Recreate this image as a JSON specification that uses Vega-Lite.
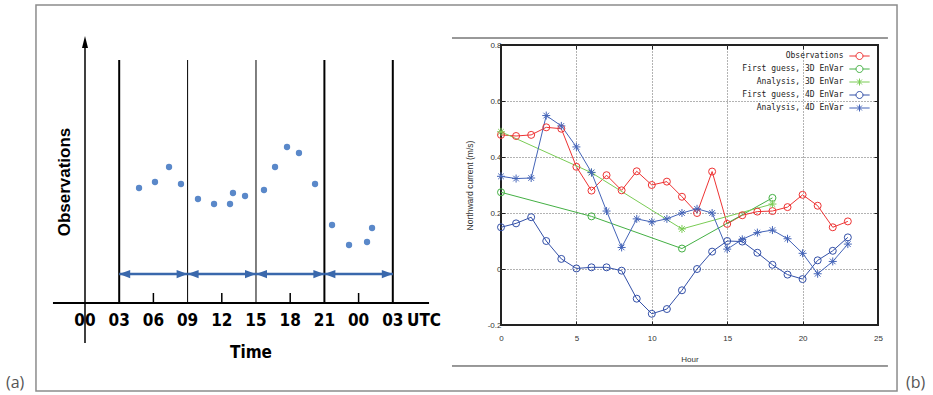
{
  "$schema": "https://vega.github.io/schema/vega-lite/v6.json",
  "padding": {"left": 5, "top": 4, "right": 0, "bottom": 0},
  "background": "white",
  "spacing": 50,
  "bounds": "flush",
  "datasets": {
    "dotsA": [
      {"h": 4.74, "v": 115}, {"h": 6.14, "v": 121}, {"h": 7.37, "v": 136}, {"h": 8.42, "v": 119},
      {"h": 9.91, "v": 104}, {"h": 11.32, "v": 99}, {"h": 12.72, "v": 99}, {"h": 12.98, "v": 110},
      {"h": 14.04, "v": 107}, {"h": 15.7, "v": 113}, {"h": 16.67, "v": 136}, {"h": 17.72, "v": 156},
      {"h": 18.77, "v": 150}, {"h": 20.18, "v": 119}, {"h": 21.67, "v": 78}, {"h": 23.16, "v": 58},
      {"h": 24.74, "v": 61}, {"h": 25.18, "v": 75}
    ],
    "windowsA": [
      {"start": 3, "end": 9}, {"start": 9, "end": 15}, {"start": 15, "end": 21}, {"start": 21, "end": 27}
    ],
    "boundsA": [{"h": 3}, {"h": 9}, {"h": 15}, {"h": 21}, {"h": 27}],
    "ticksA": [{"h": 6}, {"h": 12}, {"h": 18}, {"h": 24}],
    "labelsA": [
      {"h": 0, "label": "00"}, {"h": 3, "label": "03"}, {"h": 6, "label": "06"}, {"h": 9, "label": "09"},
      {"h": 12, "label": "12"}, {"h": 15, "label": "15"}, {"h": 18, "label": "18"}, {"h": 21, "label": "21"},
      {"h": 24, "label": "00"}, {"h": 27, "label": "03"}
    ],
    "seriesB": [
      {"hour": 0, "series": "Observations", "value": 0.479},
      {"hour": 1, "series": "Observations", "value": 0.475},
      {"hour": 2, "series": "Observations", "value": 0.479},
      {"hour": 3, "series": "Observations", "value": 0.506},
      {"hour": 4, "series": "Observations", "value": 0.501},
      {"hour": 5, "series": "Observations", "value": 0.365},
      {"hour": 6, "series": "Observations", "value": 0.28},
      {"hour": 7, "series": "Observations", "value": 0.335},
      {"hour": 8, "series": "Observations", "value": 0.281},
      {"hour": 9, "series": "Observations", "value": 0.349},
      {"hour": 10, "series": "Observations", "value": 0.3},
      {"hour": 11, "series": "Observations", "value": 0.312},
      {"hour": 12, "series": "Observations", "value": 0.258},
      {"hour": 13, "series": "Observations", "value": 0.2},
      {"hour": 14, "series": "Observations", "value": 0.348},
      {"hour": 15, "series": "Observations", "value": 0.161},
      {"hour": 16, "series": "Observations", "value": 0.192},
      {"hour": 17, "series": "Observations", "value": 0.205},
      {"hour": 18, "series": "Observations", "value": 0.207},
      {"hour": 19, "series": "Observations", "value": 0.221},
      {"hour": 20, "series": "Observations", "value": 0.265},
      {"hour": 21, "series": "Observations", "value": 0.226},
      {"hour": 22, "series": "Observations", "value": 0.149},
      {"hour": 23, "series": "Observations", "value": 0.17},
      {"hour": 0, "series": "First guess, 3D EnVar", "value": 0.274},
      {"hour": 6, "series": "First guess, 3D EnVar", "value": 0.188},
      {"hour": 12, "series": "First guess, 3D EnVar", "value": 0.073},
      {"hour": 18, "series": "First guess, 3D EnVar", "value": 0.254},
      {"hour": 0, "series": "Analysis, 3D EnVar", "value": 0.49},
      {"hour": 6, "series": "Analysis, 3D EnVar", "value": 0.344},
      {"hour": 12, "series": "Analysis, 3D EnVar", "value": 0.143},
      {"hour": 18, "series": "Analysis, 3D EnVar", "value": 0.232},
      {"hour": 0, "series": "First guess, 4D EnVar", "value": 0.149},
      {"hour": 1, "series": "First guess, 4D EnVar", "value": 0.163},
      {"hour": 2, "series": "First guess, 4D EnVar", "value": 0.185},
      {"hour": 3, "series": "First guess, 4D EnVar", "value": 0.1},
      {"hour": 4, "series": "First guess, 4D EnVar", "value": 0.036},
      {"hour": 5, "series": "First guess, 4D EnVar", "value": 0.002},
      {"hour": 6, "series": "First guess, 4D EnVar", "value": 0.006},
      {"hour": 7, "series": "First guess, 4D EnVar", "value": 0.006},
      {"hour": 8, "series": "First guess, 4D EnVar", "value": -0.006},
      {"hour": 9, "series": "First guess, 4D EnVar", "value": -0.106},
      {"hour": 10, "series": "First guess, 4D EnVar", "value": -0.16},
      {"hour": 11, "series": "First guess, 4D EnVar", "value": -0.143},
      {"hour": 12, "series": "First guess, 4D EnVar", "value": -0.076},
      {"hour": 13, "series": "First guess, 4D EnVar", "value": 0.0},
      {"hour": 14, "series": "First guess, 4D EnVar", "value": 0.062},
      {"hour": 15, "series": "First guess, 4D EnVar", "value": 0.1},
      {"hour": 16, "series": "First guess, 4D EnVar", "value": 0.098},
      {"hour": 17, "series": "First guess, 4D EnVar", "value": 0.058},
      {"hour": 18, "series": "First guess, 4D EnVar", "value": 0.015},
      {"hour": 19, "series": "First guess, 4D EnVar", "value": -0.02},
      {"hour": 20, "series": "First guess, 4D EnVar", "value": -0.036},
      {"hour": 21, "series": "First guess, 4D EnVar", "value": 0.031},
      {"hour": 22, "series": "First guess, 4D EnVar", "value": 0.065},
      {"hour": 23, "series": "First guess, 4D EnVar", "value": 0.113},
      {"hour": 0, "series": "Analysis, 4D EnVar", "value": 0.331},
      {"hour": 1, "series": "Analysis, 4D EnVar", "value": 0.323},
      {"hour": 2, "series": "Analysis, 4D EnVar", "value": 0.325},
      {"hour": 3, "series": "Analysis, 4D EnVar", "value": 0.548},
      {"hour": 4, "series": "Analysis, 4D EnVar", "value": 0.511},
      {"hour": 5, "series": "Analysis, 4D EnVar", "value": 0.436},
      {"hour": 6, "series": "Analysis, 4D EnVar", "value": 0.345},
      {"hour": 7, "series": "Analysis, 4D EnVar", "value": 0.207},
      {"hour": 8, "series": "Analysis, 4D EnVar", "value": 0.077},
      {"hour": 9, "series": "Analysis, 4D EnVar", "value": 0.179},
      {"hour": 10, "series": "Analysis, 4D EnVar", "value": 0.168},
      {"hour": 11, "series": "Analysis, 4D EnVar", "value": 0.179},
      {"hour": 12, "series": "Analysis, 4D EnVar", "value": 0.2},
      {"hour": 13, "series": "Analysis, 4D EnVar", "value": 0.215},
      {"hour": 14, "series": "Analysis, 4D EnVar", "value": 0.2},
      {"hour": 15, "series": "Analysis, 4D EnVar", "value": 0.071},
      {"hour": 16, "series": "Analysis, 4D EnVar", "value": 0.106},
      {"hour": 17, "series": "Analysis, 4D EnVar", "value": 0.13},
      {"hour": 18, "series": "Analysis, 4D EnVar", "value": 0.139},
      {"hour": 19, "series": "Analysis, 4D EnVar", "value": 0.108},
      {"hour": 20, "series": "Analysis, 4D EnVar", "value": 0.056},
      {"hour": 21, "series": "Analysis, 4D EnVar", "value": -0.017},
      {"hour": 22, "series": "Analysis, 4D EnVar", "value": 0.027},
      {"hour": 23, "series": "Analysis, 4D EnVar", "value": 0.089}
    ]
  },
  "hconcat": [
    {
      "width": 415,
      "height": 280,
      "view": {"stroke": null},
      "layer": [
        {
          "data": {"values": [{}]},
          "mark": {"type": "rect", "fill": "white", "fillOpacity": 0, "stroke": "#8c8c8c", "strokeWidth": 1.5},
          "encoding": {
            "x": {"datum": -4.3, "type": "quantitative", "scale": {"domain": [-4.2982, 32.1053], "nice": false, "zero": false}, "axis": null},
            "x2": {"datum": 71.23},
            "y": {"datum": 298, "type": "quantitative", "scale": {"domain": [-22, 258], "nice": false, "zero": false}, "axis": null},
            "y2": {"datum": -88}
          }
        },
        {
          "data": {"values": [{}]},
          "mark": {"type": "rule", "color": "black", "strokeWidth": 2},
          "encoding": {
            "x": {"datum": -2.81, "type": "quantitative", "axis": null},
            "x2": {"datum": 30.18},
            "y": {"datum": 0, "type": "quantitative", "axis": null}
          }
        },
        {
          "data": {"values": [{}]},
          "mark": {"type": "rule", "color": "black", "strokeWidth": 1.5},
          "encoding": {
            "x": {"datum": 0, "type": "quantitative", "axis": null},
            "y": {"datum": -40, "type": "quantitative", "axis": null},
            "y2": {"datum": 258}
          }
        },
        {
          "data": {"values": [{}]},
          "mark": {"type": "point", "shape": "M0,-1.5L0.75,1.5L-0.75,1.5Z", "filled": true, "color": "black", "size": 64, "opacity": 1},
          "encoding": {
            "x": {"datum": 0, "type": "quantitative", "axis": null},
            "y": {"datum": 261, "type": "quantitative", "axis": null}
          }
        },
        {
          "data": {"name": "boundsA"},
          "mark": {"type": "rule", "color": "black"},
          "encoding": {
            "x": {"field": "h", "type": "quantitative", "axis": null},
            "y": {"datum": 0, "type": "quantitative", "axis": null},
            "y2": {"datum": 243},
            "strokeWidth": {"condition": {"test": "datum.h == 9 || datum.h == 15", "value": 1}, "value": 2}
          }
        },
        {
          "data": {"name": "ticksA"},
          "mark": {"type": "rule", "color": "black", "strokeWidth": 1.5},
          "encoding": {
            "x": {"field": "h", "type": "quantitative", "axis": null},
            "y": {"datum": 0, "type": "quantitative", "axis": null},
            "y2": {"datum": 10}
          }
        },
        {
          "data": {"name": "windowsA"},
          "mark": {"type": "rule", "color": "#3a68ac", "strokeWidth": 2.5},
          "encoding": {
            "x": {"field": "start", "type": "quantitative", "axis": null},
            "x2": {"field": "end"},
            "y": {"datum": 29, "type": "quantitative", "axis": null}
          }
        },
        {
          "data": {"name": "windowsA"},
          "mark": {"type": "point", "shape": "M0,0L2,-0.75L2,0.75Z", "filled": true, "color": "#3a68ac", "size": 121, "opacity": 1},
          "encoding": {
            "x": {"field": "start", "type": "quantitative", "axis": null},
            "y": {"datum": 29, "type": "quantitative", "axis": null}
          }
        },
        {
          "data": {"name": "windowsA"},
          "mark": {"type": "point", "shape": "M0,0L-2,-0.75L-2,0.75Z", "filled": true, "color": "#3a68ac", "size": 121, "opacity": 1},
          "encoding": {
            "x": {"field": "end", "type": "quantitative", "axis": null},
            "y": {"datum": 29, "type": "quantitative", "axis": null}
          }
        },
        {
          "data": {"name": "dotsA"},
          "mark": {"type": "point", "filled": true, "color": "#5a88c9", "size": 40, "opacity": 1},
          "encoding": {
            "x": {"field": "h", "type": "quantitative", "axis": null},
            "y": {"field": "v", "type": "quantitative", "axis": null}
          }
        },
        {
          "data": {"name": "labelsA"},
          "mark": {"type": "text", "font": "'Liberation Sans Narrow', 'DejaVu Sans Condensed', 'Liberation Sans', sans-serif", "fontWeight": "bold", "fontSize": 17, "color": "black", "baseline": "middle", "align": "center"},
          "encoding": {
            "x": {"field": "h", "type": "quantitative", "axis": null},
            "y": {"datum": -18, "type": "quantitative", "axis": null},
            "text": {"field": "label"}
          }
        },
        {
          "data": {"values": [{}]},
          "mark": {"type": "text", "text": "UTC", "font": "'Liberation Sans Narrow', 'DejaVu Sans Condensed', 'Liberation Sans', sans-serif", "fontWeight": "bold", "fontSize": 17, "color": "black", "baseline": "middle", "align": "center"},
          "encoding": {
            "x": {"datum": 29.74, "type": "quantitative", "axis": null},
            "y": {"datum": -18, "type": "quantitative", "axis": null}
          }
        },
        {
          "data": {"values": [{}]},
          "mark": {"type": "text", "text": "Time", "font": "'Liberation Sans Narrow', 'DejaVu Sans Condensed', 'Liberation Sans', sans-serif", "fontWeight": "bold", "fontSize": 17, "color": "black", "baseline": "middle", "align": "center"},
          "encoding": {
            "x": {"datum": 14.56, "type": "quantitative", "axis": null},
            "y": {"datum": -50, "type": "quantitative", "axis": null}
          }
        },
        {
          "data": {"values": [{}]},
          "mark": {"type": "text", "text": "Observations", "font": "Liberation Sans", "fontWeight": "bold", "fontSize": 17, "color": "black", "baseline": "middle", "align": "center", "angle": 270},
          "encoding": {
            "x": {"datum": -1.75, "type": "quantitative", "axis": null},
            "y": {"datum": 121, "type": "quantitative", "axis": null}
          }
        },
        {
          "data": {"values": [{}]},
          "mark": {"type": "text", "text": "(a)", "font": "Open Sans", "fontSize": 16, "color": "#555555", "baseline": "middle", "align": "left"},
          "encoding": {
            "x": {"datum": -6.93, "type": "quantitative", "axis": null},
            "y": {"datum": -80, "type": "quantitative", "axis": null}
          }
        }
      ]
    },
    {
      "width": 377,
      "height": 280,
      "resolve": {"axis": {"x": "independent", "y": "independent"}},
      "layer": [
        {
          "data": {"values": [{}]},
          "mark": {"type": "rule", "color": "#333333", "strokeWidth": 1},
          "encoding": {
            "x": {
              "datum": -3.25, "type": "quantitative",
              "axis": {"orient": "top", "values": [5, 10, 15, 20], "labels": false, "title": null, "grid": false, "domain": false, "tickSize": -4, "tickColor": "#222222"}
            },
            "x2": {"datum": 25.66},
            "y": {
              "datum": 0.825, "type": "quantitative",
              "axis": {"orient": "right", "values": [0, 0.2, 0.4, 0.6], "labels": false, "title": null, "grid": false, "domain": false, "tickSize": -4, "tickColor": "#222222"}
            }
          }
        },
        {
          "data": {"values": [{}]},
          "mark": {"type": "rule", "color": "#333333", "strokeWidth": 1},
          "encoding": {
            "x": {"datum": -3.25, "type": "quantitative", "axis": null},
            "x2": {"datum": 25.66},
            "y": {"datum": -0.3464, "type": "quantitative", "axis": null}
          }
        },
        {
          "data": {"name": "seriesB"},
          "mark": {"type": "line", "strokeWidth": 1},
          "encoding": {
            "x": {
              "field": "hour", "type": "quantitative",
              "scale": {"domain": [0, 25], "nice": false, "zero": false},
              "axis": {
                "title": "Hour", "values": [0, 5, 10, 15, 20, 25], "format": "d",
                "labelFont": "Liberation Sans", "labelFontSize": 8, "labelColor": "#333333", "labelFlush": false, "labelOverlap": false,
                "tickSize": -4, "tickColor": "#222222", "labelPadding": 13, "domain": false,
                "grid": true, "gridDash": [1, 2], "gridColor": "#666666",
                "gridOpacity": {"condition": {"test": "datum.value == 0 || datum.value == 25", "value": 0}, "value": 1},
                "titleFont": "Liberation Sans", "titleFontSize": 8, "titleFontWeight": "normal", "titleColor": "#333333", "titlePadding": 13
              }
            },
            "y": {
              "field": "value", "type": "quantitative",
              "scale": {"domain": [-0.2, 0.8], "nice": false, "zero": false},
              "axis": {
                "title": "Northward current (m/s)", "values": [-0.2, 0, 0.2, 0.4, 0.6, 0.8],
                "labelExpr": "datum.value == 0 ? '0' : (datum.value < 0 ? '-' + format(-datum.value, '.1f') : format(datum.value, '.1f'))",
                "labelFont": "Liberation Sans", "labelFontSize": 8, "labelColor": "#333333", "labelFlush": false, "labelOverlap": false,
                "tickSize": -4, "tickColor": "#222222", "labelPadding": 4, "domain": false,
                "grid": true, "gridDash": [1, 2], "gridColor": "#666666",
                "gridOpacity": {"condition": {"test": "datum.value < -0.19 || datum.value > 0.79", "value": 0}, "value": 1},
                "titleFont": "Liberation Sans", "titleFontSize": 8.5, "titleFontWeight": "normal", "titleColor": "#333333", "titlePadding": 13
              }
            },
            "color": {
              "field": "series", "type": "nominal",
              "scale": {
                "domain": ["Observations", "First guess, 3D EnVar", "Analysis, 3D EnVar", "First guess, 4D EnVar", "Analysis, 4D EnVar"],
                "range": ["#ee3333", "#44b044", "#7acc55", "#3350a8", "#4464b8"]
              },
              "legend": {
                "orient": "none", "legendX": 819.5, "legendY": 7, "title": null, "padding": 0,
                "labelFont": "DejaVu Sans Mono", "labelFontSize": 8, "labelColor": "#222222",
                "labelAlign": "right", "labelOffset": -20, "symbolSize": 49, "rowPadding": 1,
                "encode": {
                  "symbols": {
                    "update": {
                      "shape": {"signal": "indexof(datum.label, 'Analysis') >= 0 ? 'M-2.9,0H2.9M0,-1V1M-0.7,-0.7L0.7,0.7M-0.7,0.7L0.7,-0.7' : 'M-2.9,0H-1M1,0H2.9M1,0A1,1,0,1,1,-1,0A1,1,0,1,1,1,0'"},
                      "fill": {"value": "transparent"},
                      "strokeWidth": {"value": 1},
                      "opacity": {"value": 1}
                    }
                  }
                }
              }
            }
          }
        },
        {
          "data": {"name": "seriesB"},
          "transform": [{"filter": "indexof(datum.series, 'Analysis') < 0"}],
          "mark": {"type": "point", "shape": "circle", "filled": false, "strokeWidth": 1, "opacity": 1, "size": 49},
          "encoding": {
            "x": {"field": "hour", "type": "quantitative", "axis": null},
            "y": {"field": "value", "type": "quantitative", "axis": null},
            "color": {"field": "series", "type": "nominal"}
          }
        },
        {
          "data": {"name": "seriesB"},
          "transform": [{"filter": "indexof(datum.series, 'Analysis') >= 0"}],
          "mark": {"type": "point", "shape": "M-1,0H1M0,-1V1M-0.7,-0.7L0.7,0.7M-0.7,0.7L0.7,-0.7", "filled": false, "strokeWidth": 1, "opacity": 1, "size": 64},
          "encoding": {
            "x": {"field": "hour", "type": "quantitative", "axis": null},
            "y": {"field": "value", "type": "quantitative", "axis": null},
            "color": {"field": "series", "type": "nominal"}
          }
        },
        {
          "data": {"values": [{}]},
          "mark": {"type": "text", "text": "(b)", "font": "Open Sans", "fontSize": 16, "color": "#555555", "baseline": "middle", "align": "left"},
          "encoding": {
            "x": {"datum": 26.86, "type": "quantitative", "axis": null},
            "y": {"datum": -0.407, "type": "quantitative", "axis": null}
          }
        }
      ]
    }
  ],
  "config": {
    "view": {"stroke": "#222222", "strokeWidth": 2},
    "font": "Liberation Sans"
  }
}
